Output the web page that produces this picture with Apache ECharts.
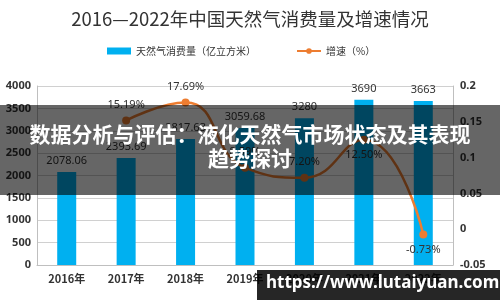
<!DOCTYPE html>
<html>
<head>
<meta charset="utf-8">
<script src="https://cdn.jsdelivr.net/npm/echarts@6/dist/echarts.min.js"></script>
<style>
  html, body { margin: 0; padding: 0; background: #fff; }
  #chart { width: 500px; height: 300px; }
</style>
</head>
<body>
<div id="chart"></div>
<script>
// 数据
const years = ['2016年', '2017年', '2018年', '2019年', '2020年', '2021年', '2022年']
const consumption = [2078.06, 2393.69, 2817.63, 3059.68, 3280, 3690, 3663]
const growth = ['-', 0.1519, 0.1769, 0.0859, 0.072, 0.125, -0.0073]
// 增速标签位置
const growthLabelPos = ['top', 'top', 'top', 'top', 'top', 'bottom', 'bottom']

const chart = echarts.init(document.getElementById('chart'))

const cjk = '"Noto Sans CJK SC", "Noto Sans", sans-serif'

const option = {
  backgroundColor: '#fff',
  animation: false,
  title: {
    text: '2016—2022年中国天然气消费量及增速情况',
    left: 'center',
    top: 5,
    textStyle: { fontFamily: cjk, fontSize: 18.5, fontWeight: 'normal', color: '#333' }
  },
  legend: {
    top: 41,
    left: 102,
    itemGap: 40,
    itemWidth: 24,
    itemHeight: 7,
    textStyle: { fontFamily: cjk, fontSize: 10, color: '#333' },
    data: [
      { name: '天然气消费量（亿立方米）', icon: 'rect' },
      { name: '增速（%）' }
    ]
  },
  grid: { left: 37, right: 47, top: 86, bottom: 35 },
  xAxis: {
    type: 'category',
    data: years,
    axisLine: { lineStyle: { color: '#bfbfbf' } },
    axisTick: { show: false },
    axisLabel: { fontFamily: cjk, fontSize: 11, fontWeight: 'bold', color: '#333', margin: 8 }
  },
  yAxis: [
    {
      type: 'value',
      min: 0,
      max: 4000,
      interval: 500,
      axisLine: { show: true, lineStyle: { color: '#bfbfbf' } },
      axisLabel: {
        fontFamily: 'Noto Sans', fontSize: 11, fontWeight: 'bold', color: '#333', margin: 6,
        formatter: v => String(v)
      },
      splitLine: { lineStyle: { color: '#d0d0d0' } }
    },
    {
      type: 'value',
      min: -0.05,
      max: 0.2,
      interval: 0.05,
      axisLine: { show: true, lineStyle: { color: '#bfbfbf' } },
      axisLabel: {
        fontFamily: 'Noto Sans', fontSize: 11, fontWeight: 'bold', color: '#333', margin: 7,
        formatter: v => String(+v.toFixed(2))
      },
      splitLine: { show: false }
    }
  ],
  series: [
    {
      name: '天然气消费量（亿立方米）',
      type: 'bar',
      data: consumption,
      barWidth: 19,
      itemStyle: { color: '#00b0f0' },
      label: {
        show: true, position: 'top', distance: 6,
        fontFamily: 'Noto Sans', fontSize: 11, color: '#333'
      }
    },
    {
      name: '增速（%）',
      type: 'line',
      yAxisIndex: 1,
      smooth: true,
      data: growth.map((v, i) => ({
        value: v,
        label: { position: growthLabelPos[i] }
      })),
      symbol: 'circle',
      symbolSize: 8,
      lineStyle: { color: '#ed7d31', width: 2.5 },
      itemStyle: { color: '#ed7d31' },
      label: {
        show: true, distance: 6,
        fontFamily: 'Noto Sans', fontSize: 11, color: '#333',
        formatter: p => (p.value * 100).toFixed(2) + '%'
      }
    }
  ],
  graphic: [
    // 中间遮罩标题
    {
      type: 'rect', left: 0, top: 105, z: 100,
      shape: { width: 500, height: 90 },
      style: { fill: 'rgba(0,0,0,0.6)' }
    },
    {
      type: 'text', left: 'center', top: 124, z: 101,
      style: {
        text: '数据分析与评估：液化天然气市场状态及其表现',
        fill: '#fff',
        font: 'bold 21px "Noto Sans CJK SC"'
      }
    },
    {
      type: 'text', left: 'center', top: 148, z: 101,
      style: {
        text: '趋势探讨',
        fill: '#fff',
        font: 'bold 21px "Noto Sans CJK SC"'
      }
    },
    // 右下角水印
    {
      type: 'rect', left: 257, top: 270, z: 100,
      shape: { width: 243, height: 30 },
      style: { fill: 'rgba(0,0,0,0.85)' }
    },
    {
      type: 'text', left: 266, top: 275, z: 101,
      style: {
        text: 'https://www.lutaiyuan.com',
        fill: '#fff',
        font: 'bold 17px "Noto Sans"'
      }
    }
  ]
}

chart.setOption(option)
</script>
</body>
</html>
